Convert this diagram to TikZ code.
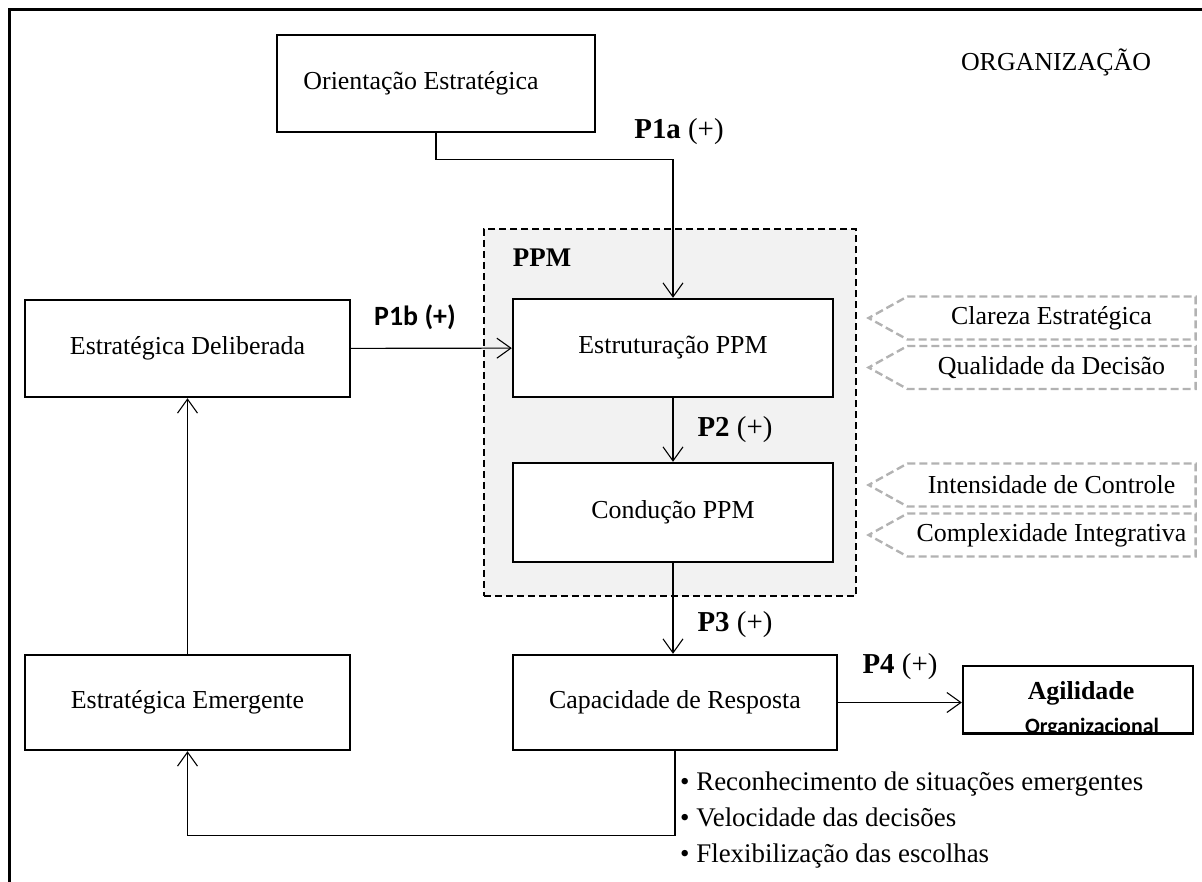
\documentclass[tikz,border=0pt]{standalone}
\usepackage{fontspec}
\setmainfont{Liberation Serif}
\newfontfamily\calibrifont{Carlito}
\usetikzlibrary{arrows.meta}
\usetikzlibrary{positioning}
\usetikzlibrary{shapes.symbols}

\tikzset{
  box/.style={draw, fill=white, line width=2.4bp, rectangle, inner sep=0pt,
    font=\fontsize{26}{30}\selectfont},
  conn/.style={line width=1.1bp,
    -{Straight Barb[length=14bp,width=20bp,line width=1.1bp]}},
  plab/.style={inner sep=0pt, font=\fontsize{29}{33}\selectfont},
  tagbox/.style={draw=gray!60, dash pattern=on 8bp off 4bp, line width=2.4bp,
    signal, signal to=west, signal pointer angle=58, inner sep=0pt,
    minimum width=327bp, minimum height=43bp, font=\fontsize{26}{30}\selectfont},
}

\begin{document}
\begin{tikzpicture}[x=1bp, y=-1bp] % PPM model

      \clip (0,0) rectangle (1202,882);
      \draw [line width=2.6bp] (9.5,900) -- (9.5,9.5) -- (1220,9.5);
      \node [font=\fontsize{26}{30}\selectfont] (org) at (1056,62) {ORGANIZAÇÃO};

      % PPM group
      \node [draw, dash pattern=on 7bp off 4bp, line width=2.4bp, fill=gray!10,
        anchor=north west, minimum width=372bp, minimum height=367bp] (ppm) at (483,228) {};
      \node [font=\bfseries\fontsize{27}{30}\selectfont] (ppmlab) at (542,258) {PPM};

      \node [box, minimum width=318bp, minimum height=97bp] (orient) at (436,83.5) {};
      \node [font=\fontsize{26}{30}\selectfont] (orienttxt) at (421,83.5) {Orientação Estratégica};
      \node [box, minimum width=325bp, minimum height=97bp] (delib) at (187.5,348.5) {Estratégica Deliberada};
      \node [box, minimum width=325bp, minimum height=95bp] (emerg) at (187.5,702.5) {Estratégica Emergente};
      \node [box, minimum width=320bp, minimum height=98bp] (estrut) at (673,348) {Estruturação PPM};
      \node [box, minimum width=320bp, minimum height=99bp] (cond) at (673,512.5) {Condução PPM};
      \node [box, minimum width=324bp, minimum height=95bp] (capac) at (675,702.5) {Capacidade de Resposta};
      \node [box, minimum width=230bp, minimum height=67bp] (agil) at (1078,699.5) {};
      \begin{scope}
        \clip (agil.north west) rectangle (agil.south east);
        \node [font=\bfseries\fontsize{26}{30}\selectfont] (agil1) at (1081,693) {Agilidade};
        \node [font=\calibrifont\bfseries\fontsize{22}{26}\selectfont] (agil2) at (1092,728) {Organizacional};
      \end{scope}
      \draw [line width=2.4bp] (agil.south west) -- (agil.south east);

      % dimensions
      \node [tagbox] (clar) at (1051.5,318) {Clareza Estratégica};
      \node [tagbox] (qual) at (1051.5,367.5) {Qualidade da Decisão};
      \node [tagbox] (inten) at (1051.5,485) {Intensidade de Controle};
      \node [tagbox] (compl) at (1051.5,535) {Complexidade Integrativa};

      % propositions
      \draw [conn] (orient.south) -- ++(0,26) -| (estrut.north);
      \draw [conn] (delib) -- (estrut);
      \draw [conn] (estrut) -- (cond);
      \draw [conn] (cond.south) -- (cond.south |- capac.north);
      \draw [conn] (capac.east) -- (capac.east -| agil.west);
      \draw [conn] (emerg) -- (delib);
      \draw [conn] (capac.south) -- ++(0,84) -| (emerg.south);

      \node [plab] (p1a) at (679,132) {\textbf{P1a} (+)};
      \node [plab, font=\calibrifont\bfseries\fontsize{28}{32}\selectfont] (p1b) at (415,317) {P1b (+)};
      \node [plab] (p2) at (735,430) {\textbf{P2} (+)};
      \node [plab] (p3) at (735,625) {\textbf{P3} (+)};
      \node [plab] (p4) at (900,667) {\textbf{P4} (+)};

      \node [anchor=west, align=left, inner sep=0pt, font=\fontsize{27}{36}\selectfont]
        (traits) at (680,820) {\textbullet\ Reconhecimento de situações emergentes\\
        \textbullet\ Velocidade das decisões\\ \textbullet\ Flexibilização das escolhas};

    \end{tikzpicture}
\end{document}
